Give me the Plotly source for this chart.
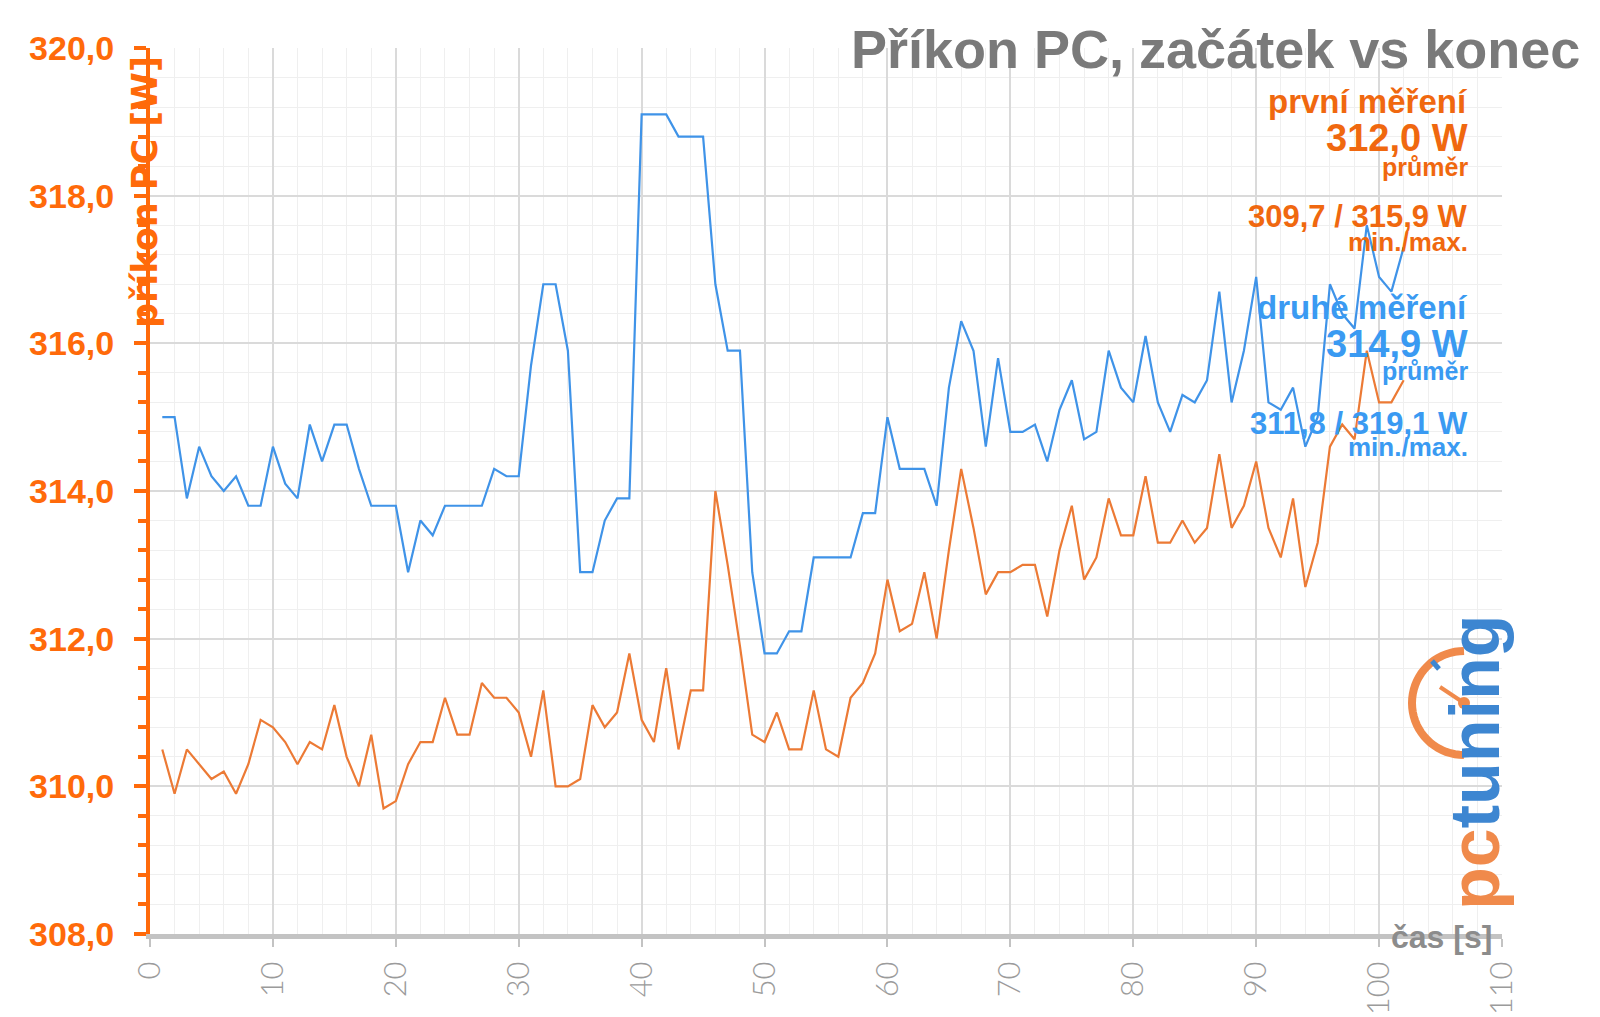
import math
import plotly.graph_objects as go

# ---------------- data ----------------
time_s = list(range(1, 103))

prvni_mereni = [
    310.5, 309.9, 310.5, 310.3, 310.1, 310.2, 309.9, 310.3, 310.9, 310.8,
    310.6, 310.3, 310.6, 310.5, 311.1, 310.4, 310.0, 310.7, 309.7, 309.8,
    310.3, 310.6, 310.6, 311.2, 310.7, 310.7, 311.4, 311.2, 311.2, 311.0,
    310.4, 311.3, 310.0, 310.0, 310.1, 311.1, 310.8, 311.0, 311.8, 310.9,
    310.6, 311.6, 310.5, 311.3, 311.3, 314.0, 313.0, 311.9, 310.7, 310.6,
    311.0, 310.5, 310.5, 311.3, 310.5, 310.4, 311.2, 311.4, 311.8, 312.8,
    312.1, 312.2, 312.9, 312.0, 313.2, 314.3, 313.5, 312.6, 312.9, 312.9,
    313.0, 313.0, 312.3, 313.2, 313.8, 312.8, 313.1, 313.9, 313.4, 313.4,
    314.2, 313.3, 313.3, 313.6, 313.3, 313.5, 314.5, 313.5, 313.8, 314.4,
    313.5, 313.1, 313.9, 312.7, 313.3, 314.6, 314.9, 314.7, 315.9, 315.2,
    315.2, 315.5,
]

druhe_mereni = [
    315.0, 315.0, 313.9, 314.6, 314.2, 314.0, 314.2, 313.8, 313.8, 314.6,
    314.1, 313.9, 314.9, 314.4, 314.9, 314.9, 314.3, 313.8, 313.8, 313.8,
    312.9, 313.6, 313.4, 313.8, 313.8, 313.8, 313.8, 314.3, 314.2, 314.2,
    315.7, 316.8, 316.8, 315.9, 312.9, 312.9, 313.6, 313.9, 313.9, 319.1,
    319.1, 319.1, 318.8, 318.8, 318.8, 316.8, 315.9, 315.9, 312.9, 311.8,
    311.8, 312.1, 312.1, 313.1, 313.1, 313.1, 313.1, 313.7, 313.7, 315.0,
    314.3, 314.3, 314.3, 313.8, 315.4, 316.3, 315.9, 314.6, 315.8, 314.8,
    314.8, 314.9, 314.4, 315.1, 315.5, 314.7, 314.8, 315.9, 315.4, 315.2,
    316.1, 315.2, 314.8, 315.3, 315.2, 315.5, 316.7, 315.2, 315.9, 316.9,
    315.2, 315.1, 315.4, 314.6, 315.0, 316.8, 316.4, 316.2, 317.6, 316.9,
    316.7, 317.3,
]

title_text = "Příkon PC, začátek vs konec"
y_title = "příkon PC [W]"
x_title = "čas [s]"
summary_first = ["první měření", "312,0 W", "průměr", "309,7 / 315,9 W", "min./max."]
summary_second = ["druhé měření", "314,9 W", "průměr", "311,8 / 319,1 W", "min./max."]

# ---------------- style ----------------
FONT = "Liberation Sans, Arial, Open Sans, sans-serif"
ORANGE_AXIS = "#FF6A0A"
ORANGE_TEXT = "#F0680F"
ORANGE_LINE = "#EC7A35"
BLUE_LINE = "#3F93E8"
BLUE_TEXT = "#3A9AF2"
GRAY_TITLE = "#7a7a7a"
GRAY_LABEL = "#9b9b9b"

FIG_W, FIG_H = 1600, 1017
L, T, PW, PH = 150, 48, 1352, 886


def px(x):
    return (x - L) / PW


def py(y):
    return 1 - (y - T) / PH


fig = go.Figure()
fig.add_trace(go.Scatter(x=time_s, y=druhe_mereni, mode="lines",
                         line=dict(color=BLUE_LINE, width=2.2), name="druhé měření"))
fig.add_trace(go.Scatter(x=time_s, y=prvni_mereni, mode="lines",
                         line=dict(color=ORANGE_LINE, width=2.2), name="první měření"))

annotations = []
# title
annotations.append(dict(text=title_text, x=px(1582), y=py(49), xref="paper", yref="paper",
                        xanchor="right", yanchor="middle", showarrow=False,
                        font=dict(family=FONT, size=54, color=GRAY_TITLE, weight="bold")))
# y axis title (rotated)
annotations.append(dict(text=y_title, x=px(145), y=py(192), xref="paper", yref="paper",
                        xanchor="center", yanchor="middle", showarrow=False, textangle=-90,
                        font=dict(family="DejaVu Sans, " + FONT, size=35, color=ORANGE_AXIS,
                                  weight="bold")))
# x axis title
annotations.append(dict(text=x_title, x=px(1494), y=py(937), xref="paper", yref="paper",
                        xanchor="right", yanchor="middle", showarrow=False,
                        font=dict(family=FONT, size=32, color="#8c8c8c", weight="bold")))

sizes1 = [33, 38, 25, 31, 26]
ys1 = [102, 138, 167, 217, 242]
ys2 = [307, 344, 371, 423, 447]
for txt, s, yy in zip(summary_first, sizes1, ys1):
    annotations.append(dict(text=txt, x=px(1470), y=py(yy), xref="paper", yref="paper",
                            xanchor="right", yanchor="middle", showarrow=False,
                            font=dict(family=FONT, size=s, color=ORANGE_TEXT, weight="bold")))
for txt, s, yy in zip(summary_second, sizes1, ys2):
    annotations.append(dict(text=txt, x=px(1470), y=py(yy), xref="paper", yref="paper",
                            xanchor="right", yanchor="middle", showarrow=False,
                            font=dict(family=FONT, size=s, color=BLUE_TEXT, weight="bold")))

# logo text
annotations.append(dict(text="<span style='color:#F08A4B'>pc</span><span style='color:#3D86D1'>tuning</span>",
                        x=px(1475), y=py(762), xref="paper", yref="paper",
                        xanchor="center", yanchor="middle", showarrow=False, textangle=-90,
                        font=dict(family=FONT, size=70, weight="bold")))

# logo clock arc
cx, cy, r = 1464, 703, 52
pts = []
for k in range(0, 37):
    th = math.radians(90 + k * 5)
    pts.append((px(cx + r * math.cos(th)), py(cy - r * math.sin(th))))
path = "M " + " L ".join(f"{a:.5f},{b:.5f}" for a, b in pts)
shapes = [
    dict(type="path", path=path, xref="paper", yref="paper",
         line=dict(color="#F08A4B", width=8), layer="above"),
    dict(type="line", xref="paper", yref="paper", x0=px(cx), y0=py(cy), x1=px(1440), y1=py(687),
         line=dict(color="#F08A4B", width=4), layer="above"),
    dict(type="circle", xref="paper", yref="paper", x0=px(cx - 6), x1=px(cx + 6),
         y0=py(cy + 6), y1=py(cy - 6), fillcolor="#F08A4B", line=dict(width=0), layer="above"),
    dict(type="line", xref="paper", yref="paper", x0=px(1432), y0=py(661), x1=px(1439), y1=py(669),
         line=dict(color="#3D86D1", width=5), layer="above"),
]

fig.update_layout(
    width=FIG_W, height=FIG_H, autosize=False,
    margin=dict(l=L, r=FIG_W - L - PW, t=T, b=FIG_H - T - PH, autoexpand=False),
    paper_bgcolor="white", plot_bgcolor="white",
    showlegend=False, separators=", ",
    annotations=annotations, shapes=shapes,
    xaxis=dict(range=[0, 110], dtick=10, tick0=0, showgrid=True, gridcolor="#dadada", gridwidth=1.5,
               zeroline=False, showline=True, linecolor="#c3c3c3", linewidth=5, automargin=False,
               ticks="outside", ticklen=8, tickwidth=2, tickcolor="#c3c3c3",
               tickangle=-90, ticklabelstandoff=2,
               tickfont=dict(family="Lato, Open Sans, sans-serif", size=31, color=GRAY_LABEL, weight=300),
               minor=dict(dtick=2, showgrid=True, gridcolor="#efefef", gridwidth=1, ticks="")),
    yaxis=dict(range=[308, 320], dtick=2, tick0=308, showgrid=True, gridcolor="#dadada", gridwidth=1.5,
               zeroline=False, showline=True, linecolor=ORANGE_AXIS, linewidth=4, automargin=False,
               ticks="outside", ticklen=12, tickwidth=4, tickcolor=ORANGE_AXIS,
               tickformat=".1f", ticklabelstandoff=13,
               tickfont=dict(family=FONT, size=34, color=ORANGE_AXIS, weight="bold"),
               minor=dict(dtick=0.4, tick0=308, showgrid=True, gridcolor="#efefef", gridwidth=1,
                          ticks="outside", ticklen=8, tickwidth=4, tickcolor=ORANGE_AXIS)),
)

fig.write_html("out.html", post_script="document.body.style.margin='0';")
